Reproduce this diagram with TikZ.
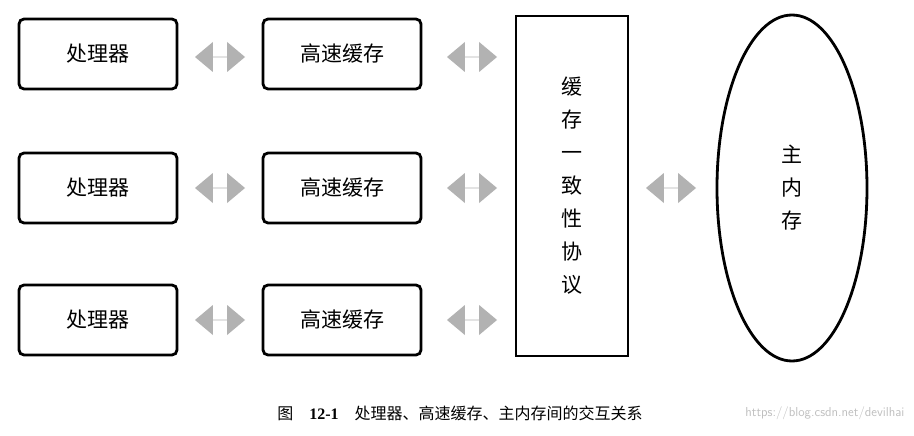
\documentclass[tikz,border=0pt]{standalone}
\usepackage{fontspec}
\setmainfont{Liberation Serif}
\newfontfamily\cjk{Noto Sans CJK SC}
\usetikzlibrary{shapes.arrows,shapes.geometric}
\begin{document}
\begin{tikzpicture}[x=1pt,y=-1pt,
  rbox/.style={draw,line width=2.8pt,rounded corners=5pt,minimum width=158pt,minimum height=70pt,font=\cjk\fontsize{21}{24}\selectfont},
  darr/.style={double arrow,fill=black!30,draw=none,minimum width=30pt,minimum height=50pt,double arrow head extend=6pt,double arrow tip angle=80,inner sep=0pt,shape border rotate=0}]
\useasboundingbox (0,0) rectangle (914,436);
\fill[white] (0,0) rectangle (914,436);
\foreach \i/\y in {1/54,2/188,3/320}{
  \node[rbox] (p\i) at (98,\y) {处理器};
  \node[rbox] (c\i) at (342,\y) {高速缓存};
}
\node[draw,line width=2.2pt,minimum width=112pt,minimum height=340pt,align=center,font=\cjk\fontsize{21}{33}\selectfont] (proto) at (572,186) {缓\\存\\一\\致\\性\\协\\议};
\node[draw,ellipse,line width=2.8pt,minimum width=150pt,minimum height=346pt,align=center,font=\cjk\fontsize{21}{33}\selectfont] (mem) at (792,188) {主\\内\\存};
\foreach \i/\y in {1/57,2/188,3/320}{
  \node[darr] (a\i) at (220,\y) {};
  \node[darr] (b\i) at (472,\y) {};
}
\node[darr] (m) at (671,188) {};
\node[font=\cjk\fontsize{16}{18}\selectfont] (cap) at (460,413) {图\quad {\rmfamily\bfseries 12-1}\quad 处理器、高速缓存、主内存间的交互关系};
\node[anchor=east,text=black!25,font=\sffamily\fontsize{13}{15}\selectfont] (wm) at (908,413) {https://blog.csdn.net/devilhai};
\end{tikzpicture}
\end{document}
